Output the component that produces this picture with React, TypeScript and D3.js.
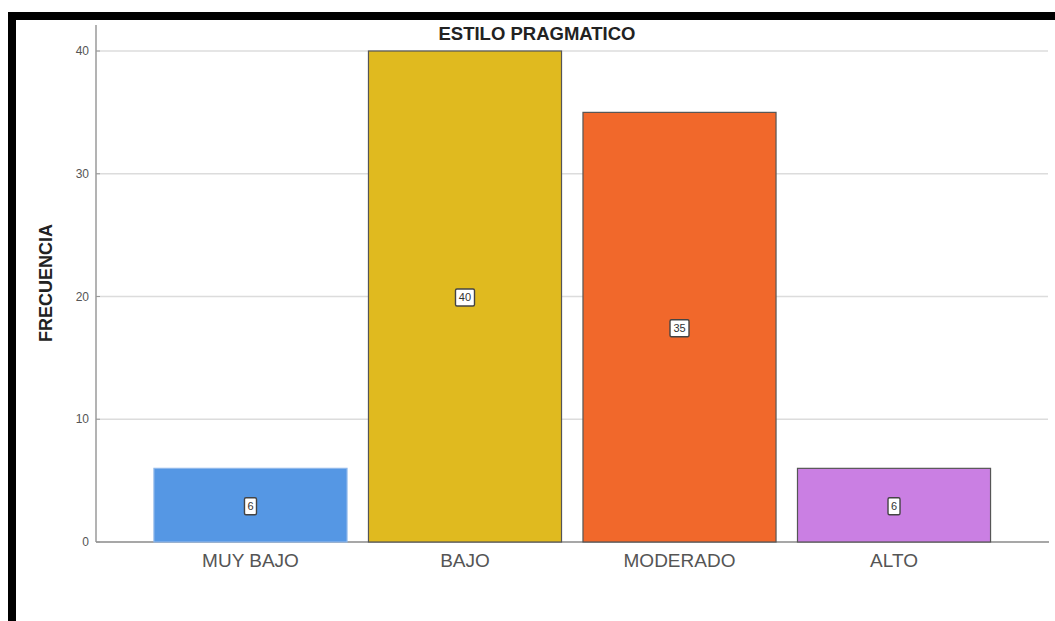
import React from "react";
import * as d3 from "d3";

const categories = ["MUY BAJO", "BAJO", "MODERADO", "ALTO"];
const values = [6, 40, 35, 6];
const colors = ["#5597e4", "#e0ba1f", "#f1682b", "#ca7fe3"];
const strokes = ["#8fb8ea", "#555", "#555", "#555"];
const yTicks = [0, 10, 20, 30, 40];

export default function App() {
  const W = 1055, H = 621;
  const x = d3.scaleBand<string>().domain(categories).range([132.5, 1012]).padding(0.1);
  const y = d3.scaleLinear().domain([0, 40]).range([542, 51]);
  const font = "Liberation Sans, Arial, sans-serif";
  return (
    <svg width={W} height={H} style={{ position: "absolute", left: 0, top: 0, display: "block", background: "#fff" }}>
      <rect x={8} y={12} width={W - 8} height={8} fill="#000" />
      <rect x={8} y={12} width={8} height={H - 12} fill="#000" />
      {yTicks.filter(t => t > 0).map(t => (
        <line key={t} x1={96} x2={1048} y1={y(t)} y2={y(t)} stroke="#dcdcdc" strokeWidth={1.6} />
      ))}
      <line x1={96} x2={96} y1={25} y2={542} stroke="#9a9a9a" strokeWidth={1.5} />
      <line x1={96} x2={1049} y1={542} y2={542} stroke="#8a8a8a" strokeWidth={1.3} />
      {yTicks.map(t => (
        <g key={t}>
          <line x1={96} x2={100} y1={y(t)} y2={y(t)} stroke="#9a9a9a" strokeWidth={1} />
          <text x={89} y={y(t)} dy="0.35em" textAnchor="end" fontSize={12} fill="#555" fontFamily={font}>{t}</text>
        </g>
      ))}
      {categories.map((c, i) => {
        const bx = x(c)!;
        const bw = x.bandwidth();
        const top = y(values[i]);
        const mid = (top + y(0)) / 2 + 1;
        const label = String(values[i]);
        const lw = label.length * 7 + 5;
        return (
          <g key={c}>
            <rect x={bx} y={top} width={bw} height={y(0) - top} fill={colors[i]} stroke={strokes[i]} strokeWidth={1.2} />
            <rect x={bx + bw / 2 - lw / 2} y={mid - 8.5} width={lw} height={17} rx={1.5} fill="#fff" stroke="#444" strokeWidth={1.4} />
            <text x={bx + bw / 2} y={mid} dy="0.35em" textAnchor="middle" fontSize={11} fill="#333" fontFamily={font}>{label}</text>
            <text x={bx + bw / 2} y={560} dy="0.35em" textAnchor="middle" fontSize={19} fill="#555" fontFamily={font}>{c}</text>
          </g>
        );
      })}
      <text x={537} y={34} dy="0.35em" textAnchor="middle" fontSize={18.5} fontWeight="bold" fill="#222" fontFamily={font}>ESTILO PRAGMATICO</text>
      <text transform={`translate(46,283) rotate(-90)`} dy="0.35em" textAnchor="middle" fontSize={18} fontWeight="bold" fill="#222" fontFamily={font}>FRECUENCIA</text>
    </svg>
  );
}
